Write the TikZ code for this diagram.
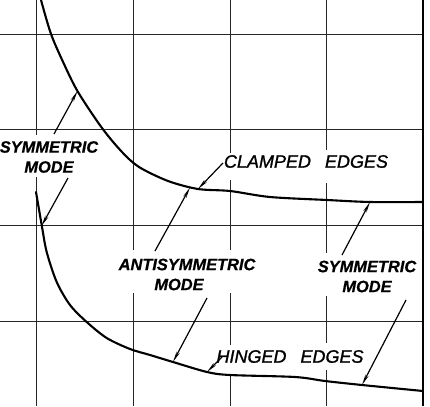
\documentclass[tikz,border=0pt]{standalone}
\usepackage{fontspec}
\setmainfont{Liberation Sans}
\newfontfamily\modefont[FakeBold=0.6]{Liberation Sans}
\newfontfamily\edgefont[FakeBold=1.2]{Liberation Sans}
\usetikzlibrary{arrows.meta}
\begin{document}
\begin{tikzpicture}[x=1pt,y=-1pt,
  gridline/.style={line width=0.9pt, black!85},
  border/.style={line width=2.4pt},
  curve/.style={line width=2.1pt, line join=round, line cap=round},
  leader/.style={line width=1.2pt, -{Stealth[length=11pt,width=3.4pt]}},
  modelabel/.style={font=\modefont\fontsize{16.4}{20}\selectfont\bfseries\itshape, align=center, inner sep=0pt},
  edgelabel/.style={font=\edgefont\fontsize{18}{20}\selectfont\itshape, inner sep=0pt}]
\useasboundingbox (0,0) rectangle (430,406);
\fill[white] (0,0) rectangle (430,406);
% grid
\draw[gridline] (36,0) -- (36,135) (36,177) -- (36,406);
\draw[gridline] (133,0) -- (133,250) (133,293) -- (133,406);
\draw[gridline] (230,0) -- (230,153) (230,180) -- (230,250) (230,293) -- (230,345) (230,375) -- (230,406);
\draw[gridline] (326,0) -- (326,150) (326,183) -- (326,253) (326,296) -- (326,343) (326,370) -- (326,406);
\foreach \yy in {34,129,225,321} \draw[gridline] (0,\yy) -- (423,\yy);
\draw[border] (423,0) -- (423,406);
% curves
\draw[curve] plot[smooth, tension=0.5] coordinates {(41,0) (51,34) (64,64) (78,92) (102,128) (122,152) (139,167) (168,181) (198,189) (230,191) (270,197) (327,200) (370,202) (423,202)};
\draw[curve] plot[smooth, tension=0.5] coordinates {(36,192) (41.7,225) (46.7,252) (56.7,282) (70,305) (86.7,322) (106.7,338) (130,349) (150,355) (173,362) (207,372) (230,375) (295,377) (325,381) (362,385) (423,391)};
% labels
\node[modelabel] (symL) at (49,157) {SYMMETRIC\\MODE};
\node[modelabel] (anti) at (187,274.5) {ANTISYMMETRIC\\MODE\hspace*{16pt}};
\node[modelabel] (symR) at (367,276.5) {SYMMETRIC\\MODE};
\node[edgelabel] (clamped) at (306,161.5) {CLAMPED\hspace{14pt}EDGES};
\node[edgelabel] (hinged) at (290,356.5) {HINGED\hspace{14pt}EDGES};
% leader ends
\coordinate (a1) at (54,134);  \coordinate (b1) at (77.5,91);
\coordinate (a2) at (68,178);  \coordinate (b2) at (41.5,226);
\coordinate (a3) at (223,163); \coordinate (b3) at (198,189);
\coordinate (a4) at (155,251); \coordinate (b4) at (190,187.5);
\coordinate (a5) at (207,298); \coordinate (b5) at (173,362);
\coordinate (a6) at (342,255); \coordinate (b6) at (370,202);
\coordinate (a7) at (406,300); \coordinate (b7) at (362,385);
\coordinate (a8) at (222,357); \coordinate (b8) at (207,372);
\foreach \i in {1,...,8} \draw[leader] (a\i) -- (b\i);
\end{tikzpicture}
\end{document}
